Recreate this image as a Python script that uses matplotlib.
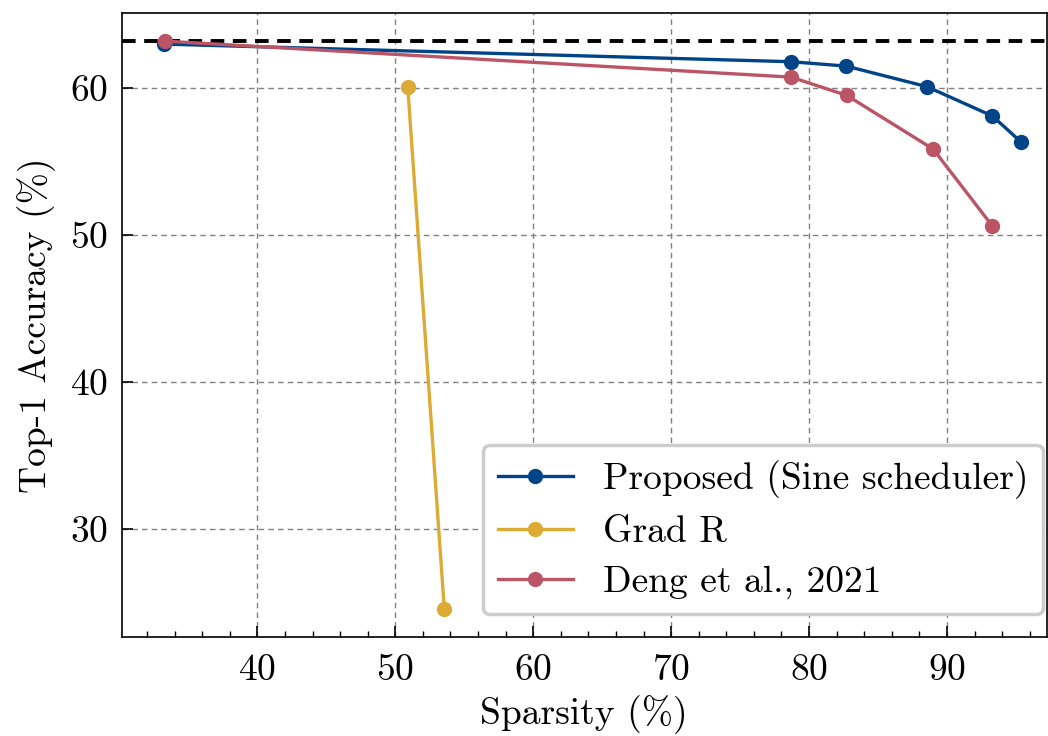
import matplotlib
matplotlib.use("Agg")
import matplotlib.pyplot as plt
from matplotlib.ticker import MultipleLocator

plt.rcParams['font.family'] = ['cmr10', 'DejaVu Serif']
plt.rcParams['mathtext.fontset'] = 'cm'
plt.rcParams['axes.formatter.use_mathtext'] = True
plt.rcParams['font.size'] = 27

# data
proposed_x = [33.2, 78.7, 82.7, 88.55, 93.3, 95.35]
proposed_y = [63.0, 61.8, 61.5, 60.1, 58.1, 56.35]
gradr_x = [50.9, 53.55]
gradr_y = [60.1, 24.55]
deng_x = [33.3, 78.7, 82.75, 89.0, 93.3]
deng_y = [63.2, 60.75, 59.5, 55.85, 50.6]
baseline = 63.2

fig, ax = plt.subplots(figsize=(10.48, 7.36), dpi=100)
fig.subplots_adjust(left=0.116, right=0.999, top=0.982, bottom=0.135)

ax.axhline(baseline, color='black', linestyle='--', linewidth=2.8, dashes=(3.5, 2.2), zorder=1)
ax.plot(proposed_x, proposed_y, '-o', color='#004488', lw=2.4, ms=10, label='Proposed (Sine scheduler)', zorder=3)
ax.plot(gradr_x, gradr_y, '-o', color='#DDAA33', lw=2.4, ms=10, label='Grad R', zorder=3)
ax.plot(deng_x, deng_y, '-o', color='#BB5566', lw=2.4, ms=10, label='Deng et al., 2021', zorder=3)

ax.set_xlim(30.15, 97.25)
ax.set_ylim(22.65, 65.1)
ax.xaxis.set_major_locator(MultipleLocator(10))
ax.xaxis.set_minor_locator(MultipleLocator(2))
ax.yaxis.set_major_locator(MultipleLocator(10))
ax.tick_params(which='major', direction='in', length=8, width=1.2, top=False, right=False)
ax.tick_params(which='minor', direction='in', length=4, width=1.0, top=False, right=False)
ax.tick_params(axis='x', pad=12)
ax.tick_params(axis='y', pad=10)
for s in ax.spines.values():
    s.set_linewidth(1.2)

ax.grid(True, which='major', linestyle='--', color='gray', linewidth=1.0, dashes=(4, 3))
ax.set_axisbelow(True)

ax.set_xlabel('Sparsity (%)', labelpad=6)
ax.set_ylabel('Top-1 Accuracy (%)', labelpad=10)

leg = ax.legend(loc='lower right', bbox_to_anchor=(1.0, 0.03), frameon=True, fancybox=True,
                framealpha=1, edgecolor='#cccccc', borderpad=0.4, handlelength=2.0,
                borderaxespad=0.1, labelspacing=0.45)
leg.get_frame().set_linewidth(2.5)

fig.savefig('out.png', dpi=100)
